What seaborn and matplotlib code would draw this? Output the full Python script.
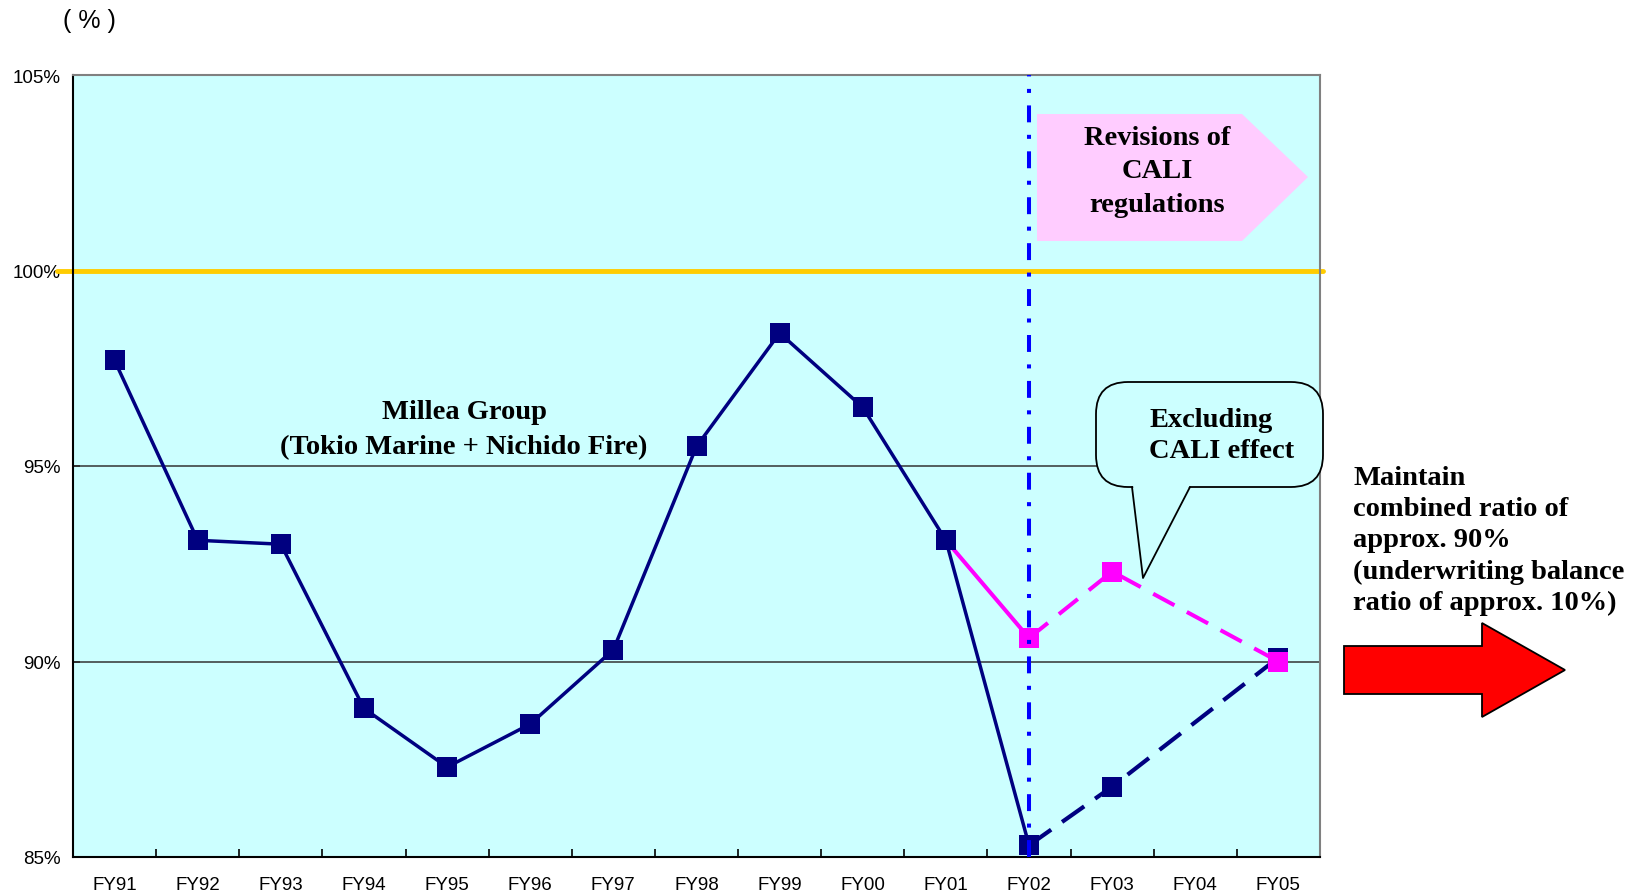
import numpy as np
import pandas as pd
import matplotlib
matplotlib.use("Agg")
import matplotlib.pyplot as plt
import seaborn as sns
from matplotlib.patches import Polygon, FancyBboxPatch
from matplotlib.lines import Line2D
from matplotlib.transforms import Affine2D

# === DATA ===
years = ["FY91", "FY92", "FY93", "FY94", "FY95", "FY96", "FY97", "FY98",
         "FY99", "FY00", "FY01", "FY02", "FY03", "FY04", "FY05"]
millea_ratio = [97.7, 93.1, 93.0, 88.8, 87.3, 88.4, 90.3, 95.5,
                98.4, 96.5, 93.1, 85.3, 86.8, np.nan, 90.1]
excl_cali_ratio = [np.nan] * 10 + [93.1, 90.6, 92.3, np.nan, 90.0]
ytick_vals = [85, 90, 95, 100, 105]
ytick_labels = ["85%", "90%", "95%", "100%", "105%"]
revision_year = "FY02"

df = pd.DataFrame({"idx": range(len(years)), "year": years,
                   "millea": millea_ratio, "excl": excl_cali_ratio})
rev_idx = years.index(revision_year)

# === STYLE ===
sns.set_style("white")
plt.rcParams["font.family"] = ["Liberation Sans", "DejaVu Sans"]
plt.rcParams["text.color"] = "black"

W, H = 1636, 895
fig = plt.figure(figsize=(W / 100, H / 100), dpi=100)
ax = fig.add_axes([73 / W, 1 - 858 / H, (1320 - 73) / W, (858 - 76) / H])
# pixel coords (origin top-left) for the drawn shapes
pix = Affine2D().scale(1 / W, -1 / H).translate(0, 1) + fig.transFigure

navy = "#000080"
pink = "#FF00FF"
serif = "Liberation Serif"

ax.set_facecolor("#CCFFFF")
for y in [90, 95]:
    ax.axhline(y, color="#333333", lw=1.1, zorder=1)
ax.axhline(100, xmin=-0.013, xmax=1.0025, color="#FFCC00", lw=3.5,
           clip_on=False, zorder=2)

# lines
sns.lineplot(data=df[df.idx <= rev_idx], x="idx", y="millea", ax=ax,
             color=navy, lw=2.5, zorder=3)
sns.lineplot(data=df[df.idx >= rev_idx], x="idx", y="millea", ax=ax,
             color=navy, lw=3, linestyle=(0, (6.5, 3.2)), zorder=3)
sns.lineplot(data=df[(df.idx >= rev_idx - 1) & (df.idx <= rev_idx)], x="idx",
             y="excl", ax=ax, color=pink, lw=2.9, zorder=4)
sns.lineplot(data=df[df.idx >= rev_idx], x="idx", y="excl", ax=ax,
             color=pink, lw=2.9, linestyle=(0, (6, 3.5)), zorder=4)

# markers
sns.scatterplot(data=df, x="idx", y="millea", ax=ax, marker="s", s=205,
                color=navy, linewidth=0, zorder=5)
sns.scatterplot(data=df[df.idx >= rev_idx], x="idx", y="excl", ax=ax,
                marker="s", s=205, color=pink, linewidth=0, zorder=6)

ax.axvline(rev_idx, color="#0000FF", lw=2.9,
           linestyle=(0, (4.2, 3.1, 1.0, 3.1)), zorder=7)

ax.set_xlim(-0.5, len(years) - 0.5)
ax.set_ylim(85, 105)
ax.set_xticks(range(len(years)))
ax.set_xticklabels(years)
ax.set_xticks(np.arange(-0.5, len(years), 1), minor=True)
ax.set_yticks(ytick_vals)
ax.set_yticklabels(ytick_labels)
ax.set_xlabel("")
ax.set_ylabel("")
ax.tick_params(axis="x", which="major", length=0, pad=14, labelsize=13.5,
               labelcolor="black")
ax.tick_params(axis="x", which="minor", direction="in", length=6, width=1.2,
               color="black", bottom=True)
ax.tick_params(axis="y", direction="in", length=5, width=1.2, color="black",
               left=True, labelsize=13.5, pad=9, labelcolor="black")
for side in ["top", "right"]:
    ax.spines[side].set_color("#808080")
    ax.spines[side].set_linewidth(1.5)
for side in ["left", "bottom"]:
    ax.spines[side].set_color("black")
    ax.spines[side].set_linewidth(1.5)

# === ANNOTATIONS ===
fig.text(89, 21, "( % )", transform=pix, ha="center", va="center",
         fontsize=18)

# pink pentagon arrow
fig.add_artist(Polygon([(1037, 115), (1242, 115), (1308, 178), (1242, 242),
                        (1037, 242)], closed=True, transform=pix,
                       fc="#FFCCFF", ec="none", zorder=1))
fig.text(1157, 172, "Revisions of\nCALI\nregulations", transform=pix,
         ha="center", va="center", multialignment="center", fontsize=20.5,
         fontweight="bold", family=serif, linespacing=1.45, zorder=3)

fig.text(464, 430, "Millea Group\n(Tokio Marine + Nichido Fire)",
         transform=pix, ha="center", va="center", multialignment="center",
         fontsize=20.5, fontweight="bold", family=serif, linespacing=1.57)

# callout
fig.add_artist(FancyBboxPatch((1096, 383), 227, 105,
                              boxstyle="round,pad=0,rounding_size=32",
                              transform=pix, fc="#CCFFFF", ec="black",
                              lw=1.3, zorder=1))
fig.add_artist(Polygon([(1133, 486), (1143, 579), (1190, 486)], closed=True,
                       transform=pix, fc="#CCFFFF", ec="none", zorder=1.1))
fig.add_artist(Line2D([1132, 1143, 1190], [488, 579, 488], transform=pix,
                      color="black", lw=1.3, zorder=1.2))
fig.text(1149, 436, "Excluding\nCALI effect", transform=pix, ha="left",
         va="center", fontsize=20.5, fontweight="bold", family=serif,
         linespacing=1.31, zorder=3)

# target text and red arrow
fig.text(1353, 541, "Maintain\ncombined ratio of\napprox. 90%\n"
         "(underwriting balance\nratio of approx. 10%)", transform=pix,
         ha="left", va="center", fontsize=20.5, fontweight="bold",
         family=serif, linespacing=1.33)
fig.add_artist(Polygon([(1344, 647), (1482, 647), (1482, 624), (1565, 671),
                        (1482, 718), (1482, 695), (1344, 695)], closed=True,
                       transform=pix, fc="#FF0000", ec="black", lw=1.3,
                       zorder=1))

fig.savefig("out.png", dpi=100)
